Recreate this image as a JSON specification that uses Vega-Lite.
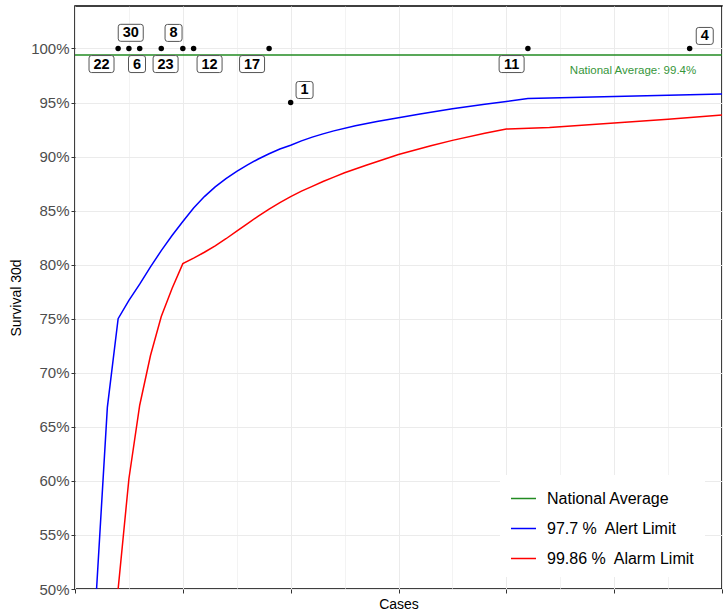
{
  "$schema": "https://vega.github.io/schema/vega-lite/v6.json",
  "width": 647,
  "height": 583,
  "autosize": {"type": "none"},
  "padding": {"left": 75, "top": 6, "right": 1, "bottom": 26},
  "background": "white",
  "config": {
    "font": "Liberation Sans",
    "view": {"stroke": "black", "strokeWidth": 1.5},
    "axis": {
      "domain": false,
      "grid": true,
      "gridColor": "#EBEBEB",
      "tickColor": "#333333",
      "tickSize": 4,
      "labelFont": "Liberation Sans",
      "titleFont": "Liberation Sans",
      "titleFontWeight": "normal",
      "titleFontSize": 14,
      "titleColor": "black"
    },
    "legend": {"title": null}
  },
  "datasets": {
    "limits": [
      {"cases": 2, "survival": 0.5, "series": "97.7 %\u00a0 Alert Limit"},
      {"cases": 3, "survival": 0.668, "series": "97.7 %\u00a0 Alert Limit"},
      {"cases": 4, "survival": 0.75, "series": "97.7 %\u00a0 Alert Limit"},
      {"cases": 5, "survival": 0.767, "series": "97.7 %\u00a0 Alert Limit"},
      {"cases": 6, "survival": 0.782, "series": "97.7 %\u00a0 Alert Limit"},
      {"cases": 7, "survival": 0.798, "series": "97.7 %\u00a0 Alert Limit"},
      {"cases": 8, "survival": 0.813, "series": "97.7 %\u00a0 Alert Limit"},
      {"cases": 9, "survival": 0.827, "series": "97.7 %\u00a0 Alert Limit"},
      {"cases": 10, "survival": 0.840, "series": "97.7 %\u00a0 Alert Limit"},
      {"cases": 11, "survival": 0.8525, "series": "97.7 %\u00a0 Alert Limit"},
      {"cases": 12, "survival": 0.863, "series": "97.7 %\u00a0 Alert Limit"},
      {"cases": 13, "survival": 0.872, "series": "97.7 %\u00a0 Alert Limit"},
      {"cases": 14, "survival": 0.8797, "series": "97.7 %\u00a0 Alert Limit"},
      {"cases": 15, "survival": 0.8864, "series": "97.7 %\u00a0 Alert Limit"},
      {"cases": 16, "survival": 0.8924, "series": "97.7 %\u00a0 Alert Limit"},
      {"cases": 17, "survival": 0.8978, "series": "97.7 %\u00a0 Alert Limit"},
      {"cases": 18, "survival": 0.9026, "series": "97.7 %\u00a0 Alert Limit"},
      {"cases": 19, "survival": 0.907, "series": "97.7 %\u00a0 Alert Limit"},
      {"cases": 20, "survival": 0.9105, "series": "97.7 %\u00a0 Alert Limit"},
      {"cases": 21, "survival": 0.9145, "series": "97.7 %\u00a0 Alert Limit"},
      {"cases": 22, "survival": 0.918, "series": "97.7 %\u00a0 Alert Limit"},
      {"cases": 23, "survival": 0.921, "series": "97.7 %\u00a0 Alert Limit"},
      {"cases": 24, "survival": 0.9238, "series": "97.7 %\u00a0 Alert Limit"},
      {"cases": 26, "survival": 0.9285, "series": "97.7 %\u00a0 Alert Limit"},
      {"cases": 28, "survival": 0.9325, "series": "97.7 %\u00a0 Alert Limit"},
      {"cases": 30, "survival": 0.936, "series": "97.7 %\u00a0 Alert Limit"},
      {"cases": 32, "survival": 0.9393, "series": "97.7 %\u00a0 Alert Limit"},
      {"cases": 35, "survival": 0.9443, "series": "97.7 %\u00a0 Alert Limit"},
      {"cases": 38, "survival": 0.9485, "series": "97.7 %\u00a0 Alert Limit"},
      {"cases": 40, "survival": 0.951, "series": "97.7 %\u00a0 Alert Limit"},
      {"cases": 42, "survival": 0.9537, "series": "97.7 %\u00a0 Alert Limit"},
      {"cases": 50, "survival": 0.9555, "series": "97.7 %\u00a0 Alert Limit"},
      {"cases": 60, "survival": 0.958, "series": "97.7 %\u00a0 Alert Limit"},
      {"cases": 4, "survival": 0.5, "series": "99.86 %\u00a0 Alarm Limit"},
      {"cases": 5, "survival": 0.602, "series": "99.86 %\u00a0 Alarm Limit"},
      {"cases": 6, "survival": 0.670, "series": "99.86 %\u00a0 Alarm Limit"},
      {"cases": 7, "survival": 0.716, "series": "99.86 %\u00a0 Alarm Limit"},
      {"cases": 8, "survival": 0.752, "series": "99.86 %\u00a0 Alarm Limit"},
      {"cases": 9, "survival": 0.778, "series": "99.86 %\u00a0 Alarm Limit"},
      {"cases": 10, "survival": 0.801, "series": "99.86 %\u00a0 Alarm Limit"},
      {"cases": 11, "survival": 0.806, "series": "99.86 %\u00a0 Alarm Limit"},
      {"cases": 12, "survival": 0.8115, "series": "99.86 %\u00a0 Alarm Limit"},
      {"cases": 13, "survival": 0.8175, "series": "99.86 %\u00a0 Alarm Limit"},
      {"cases": 14, "survival": 0.824, "series": "99.86 %\u00a0 Alarm Limit"},
      {"cases": 15, "survival": 0.831, "series": "99.86 %\u00a0 Alarm Limit"},
      {"cases": 16, "survival": 0.838, "series": "99.86 %\u00a0 Alarm Limit"},
      {"cases": 17, "survival": 0.845, "series": "99.86 %\u00a0 Alarm Limit"},
      {"cases": 18, "survival": 0.8515, "series": "99.86 %\u00a0 Alarm Limit"},
      {"cases": 19, "survival": 0.8575, "series": "99.86 %\u00a0 Alarm Limit"},
      {"cases": 20, "survival": 0.863, "series": "99.86 %\u00a0 Alarm Limit"},
      {"cases": 21, "survival": 0.868, "series": "99.86 %\u00a0 Alarm Limit"},
      {"cases": 22, "survival": 0.8725, "series": "99.86 %\u00a0 Alarm Limit"},
      {"cases": 23, "survival": 0.877, "series": "99.86 %\u00a0 Alarm Limit"},
      {"cases": 24, "survival": 0.881, "series": "99.86 %\u00a0 Alarm Limit"},
      {"cases": 25, "survival": 0.885, "series": "99.86 %\u00a0 Alarm Limit"},
      {"cases": 27, "survival": 0.892, "series": "99.86 %\u00a0 Alarm Limit"},
      {"cases": 30, "survival": 0.902, "series": "99.86 %\u00a0 Alarm Limit"},
      {"cases": 33, "survival": 0.910, "series": "99.86 %\u00a0 Alarm Limit"},
      {"cases": 35, "survival": 0.915, "series": "99.86 %\u00a0 Alarm Limit"},
      {"cases": 38, "survival": 0.9215, "series": "99.86 %\u00a0 Alarm Limit"},
      {"cases": 40, "survival": 0.9255, "series": "99.86 %\u00a0 Alarm Limit"},
      {"cases": 44, "survival": 0.927, "series": "99.86 %\u00a0 Alarm Limit"},
      {"cases": 50, "survival": 0.931, "series": "99.86 %\u00a0 Alarm Limit"},
      {"cases": 55, "survival": 0.9345, "series": "99.86 %\u00a0 Alarm Limit"},
      {"cases": 60, "survival": 0.9385, "series": "99.86 %\u00a0 Alarm Limit"}
    ],
    "units": [
      {"unit": "22", "cases": 4, "survival": 1.0, "label_cases": 2.46, "label_survival": 0.9856},
      {"unit": "30", "cases": 5, "survival": 1.0, "label_cases": 5.17, "label_survival": 1.0145},
      {"unit": "6", "cases": 6, "survival": 1.0, "label_cases": 5.75, "label_survival": 0.9856},
      {"unit": "23", "cases": 8, "survival": 1.0, "label_cases": 8.4, "label_survival": 0.9856},
      {"unit": "8", "cases": 10, "survival": 1.0, "label_cases": 9.14, "label_survival": 1.0144},
      {"unit": "12", "cases": 11, "survival": 1.0, "label_cases": 12.48, "label_survival": 0.9856},
      {"unit": "17", "cases": 18, "survival": 1.0, "label_cases": 16.42, "label_survival": 0.9856},
      {"unit": "1", "cases": 20, "survival": 0.95, "label_cases": 21.29, "label_survival": 0.9616},
      {"unit": "11", "cases": 42, "survival": 1.0, "label_cases": 40.49, "label_survival": 0.9856},
      {"unit": "4", "cases": 57, "survival": 1.0, "label_cases": 58.4, "label_survival": 1.0116}
    ]
  },
  "layer": [
    {
      "data": {"values": [{"average": 0.994}]},
      "mark": {"type": "rule", "strokeWidth": 1.5},
      "encoding": {
        "y": {"field": "average", "type": "quantitative", "scale": {"domain": [0.5, 1.0393], "nice": false, "zero": false},
          "axis": {"title": "Survival 30d", "values": [0.5,0.525,0.55,0.575,0.6,0.625,0.65,0.675,0.7,0.725,0.75,0.775,0.8,0.825,0.85,0.875,0.9,0.925,0.95,0.975,1.0,1.025], "format": ".0%", "labelExpr": "round(datum.value*1000) % 50 == 0 ? datum.label : ''", "tickOpacity": {"condition": {"test": "round(datum.value*1000) % 50 == 0", "value": 1}, "value": 0}, "gridWidth": {"condition": {"test": "round(datum.value*1000) % 50 == 0", "value": 1}, "value": 0.6}, "labelFontSize": 15, "labelColor": "#4D4D4D", "labelPadding": 2, "titlePadding": 7}},
        "color": {"datum": "National Average", "type": "nominal",
          "scale": {"domain": ["National Average", "97.7 %\u00a0 Alert Limit", "99.86 %\u00a0 Alarm Limit"], "range": ["#228B22", "#0000FF", "#FF0000"]},
          "legend": {"title": null, "orient": "none", "legendX": 425, "legendY": 469, "fillColor": "white", "padding": 10, "symbolType": "stroke", "symbolSize": 625, "symbolStrokeWidth": 1.5, "labelFontSize": 16, "labelFont": "Liberation Sans", "labelColor": "black", "labelOffset": 10, "rowPadding": 8}}
      }
    },
    {
      "data": {"name": "limits"},
      "mark": {"type": "line", "strokeWidth": 1.5, "clip": true},
      "encoding": {
        "x": {"field": "cases", "type": "quantitative", "scale": {"domain": [0, 60], "nice": false, "zero": false},
          "axis": {"title": "Cases", "values": [0,5,10,15,20,25,30,35,40,45,50,55,60], "labels": false, "tickOpacity": {"condition": {"test": "datum.value % 10 == 0", "value": 1}, "value": 0}, "gridWidth": {"condition": {"test": "datum.value % 10 == 0", "value": 1}, "value": 0.6}, "titlePadding": 4}},
        "y": {"field": "survival", "type": "quantitative", "scale": {"domain": [0.5, 1.0393], "nice": false, "zero": false}, "axis": {"title": "Survival 30d"}},
        "color": {"field": "series", "type": "nominal", "legend": {"title": null}}
      }
    },
    {
      "data": {"name": "units"},
      "mark": {"type": "circle", "color": "black", "size": 30, "opacity": 1},
      "encoding": {
        "x": {"field": "cases", "type": "quantitative", "scale": {"domain": [0, 60], "nice": false, "zero": false}, "axis": {"title": "Cases"}},
        "y": {"field": "survival", "type": "quantitative", "scale": {"domain": [0.5, 1.0393], "nice": false, "zero": false}, "axis": {"title": "Survival 30d"}}
      }
    },
    {
      "data": {"name": "units"},
      "transform": [{"filter": "length(datum.unit) == 2"}],
      "mark": {"type": "point", "filled": false, "fill": "white", "fillOpacity": 1, "stroke": "#555555", "strokeWidth": 1, "opacity": 1, "size": 625,
        "shape": "M-0.8,-0.68 L0.8,-0.68 Q1,-0.68 1,-0.48 L1,0.48 Q1,0.68 0.8,0.68 L-0.8,0.68 Q-1,0.68 -1,0.48 L-1,-0.48 Q-1,-0.68 -0.8,-0.68 Z"},
      "encoding": {
        "x": {"field": "label_cases", "type": "quantitative", "scale": {"domain": [0, 60], "nice": false, "zero": false}, "axis": {"title": "Cases"}},
        "y": {"field": "label_survival", "type": "quantitative", "scale": {"domain": [0.5, 1.0393], "nice": false, "zero": false}, "axis": {"title": "Survival 30d"}}
      }
    },
    {
      "data": {"name": "units"},
      "transform": [{"filter": "length(datum.unit) == 1"}],
      "mark": {"type": "point", "filled": false, "fill": "white", "fillOpacity": 1, "stroke": "#555555", "strokeWidth": 1, "opacity": 1, "size": 625,
        "shape": "M-0.48,-0.68 L0.48,-0.68 Q0.68,-0.68 0.68,-0.48 L0.68,0.48 Q0.68,0.68 0.48,0.68 L-0.48,0.68 Q-0.68,0.68 -0.68,0.48 L-0.68,-0.48 Q-0.68,-0.68 -0.48,-0.68 Z"},
      "encoding": {
        "x": {"field": "label_cases", "type": "quantitative", "scale": {"domain": [0, 60], "nice": false, "zero": false}, "axis": {"title": "Cases"}},
        "y": {"field": "label_survival", "type": "quantitative", "scale": {"domain": [0.5, 1.0393], "nice": false, "zero": false}, "axis": {"title": "Survival 30d"}}
      }
    },
    {
      "data": {"name": "units"},
      "mark": {"type": "text", "font": "Liberation Sans", "fontWeight": "bold", "fontSize": 14.5, "color": "black", "baseline": "middle", "align": "center", "dy": 0.5},
      "encoding": {
        "x": {"field": "label_cases", "type": "quantitative", "scale": {"domain": [0, 60], "nice": false, "zero": false}, "axis": {"title": "Cases"}},
        "y": {"field": "label_survival", "type": "quantitative", "scale": {"domain": [0.5, 1.0393], "nice": false, "zero": false}, "axis": {"title": "Survival 30d"}},
        "text": {"field": "unit"}
      }
    },
    {
      "data": {"values": [{"note": "National Average: 99.4%"}]},
      "mark": {"type": "text", "font": "Liberation Sans", "fontSize": 11.5, "color": "#36963A", "baseline": "middle", "align": "center"},
      "encoding": {
        "x": {"datum": 51.75, "type": "quantitative", "scale": {"domain": [0, 60], "nice": false, "zero": false}, "axis": {"title": "Cases"}},
        "y": {"datum": 0.9792, "type": "quantitative", "scale": {"domain": [0.5, 1.0393], "nice": false, "zero": false}, "axis": {"title": "Survival 30d"}},
        "text": {"field": "note"}
      }
    }
  ]
}
